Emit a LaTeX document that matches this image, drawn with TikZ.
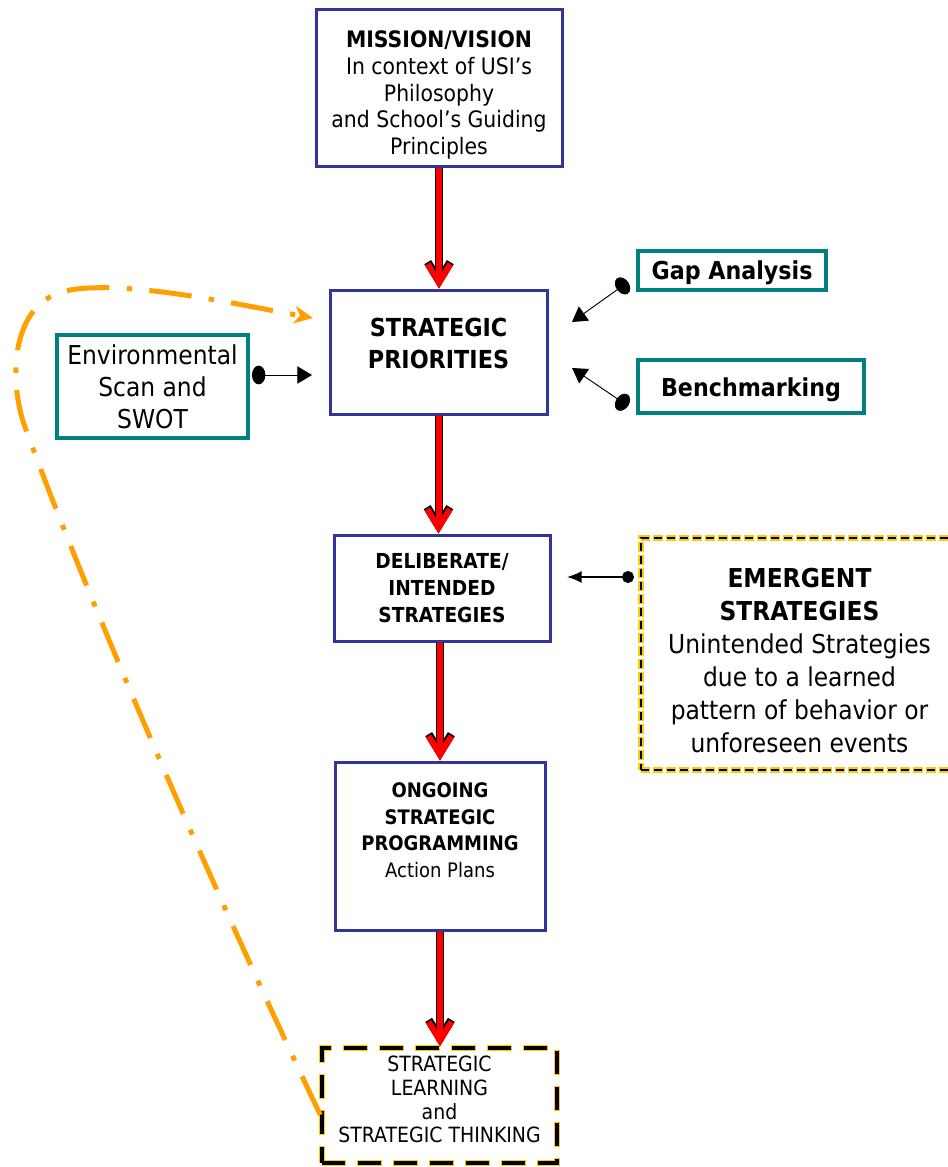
\documentclass[tikz,border=0pt]{standalone}
\usepackage{fontspec}
\setmainfont{DejaVu Sans}[FakeStretch=0.9]
\usetikzlibrary{
    arrows.meta,
    positioning
}
\definecolor{planBlue}{RGB}{51, 51, 153}
\definecolor{inputTeal}{RGB}{0, 128, 128}
\definecolor{cautionYellow}{RGB}{255, 204, 0}
\definecolor{loopOrange}{RGB}{255, 160, 0}
\definecolor{flowRed}{RGB}{255, 0, 0}
\def\pageW{948}
\def\pageH{1167}
\tikzset{
    planBox/.style={
        rectangle,
        draw=planBlue,
        line width=2.25pt,
        fill=white,
        align=center,
        inner sep=2pt
    },
    inputBox/.style={
        rectangle,
        draw=inputTeal,
        line width=3pt,
        fill=white,
        align=center,
        inner sep=1pt,
        font=\fontsize{19.5}{24}\selectfont
    },
    emergentBox/.style={
        rectangle,
        align=center,
        draw=black,
        line width=2pt,
        dash pattern=on 6pt off 3.75pt,
        preaction={draw=cautionYellow, line width=3.8pt, dash pattern=on 7.5pt off 2.25pt, dash phase=0.75pt},
        font=\fontsize{19.5}{24.75}\selectfont
    },
    learnBox/.style={
        rectangle,
        align=center,
        draw=black,
        line width=2.6pt,
        dash pattern=on 17.5pt off 9.5pt,
        preaction={draw=cautionYellow, line width=4.6pt, dash pattern=on 19pt off 8pt, dash phase=0.75pt},
        font=\fontsize{15.75}{17.75}\selectfont
    },
    % Connector Styles
    flowArrow/.style={
        draw=flowRed,
        line width=4.5pt,
        -{Straight Barb[length=14pt, width=17pt]},
        preaction={draw=black, line width=6pt, -{Straight Barb[length=14pt, width=17pt]}}
    },
    feedArrow/.style={
        draw=black,
        line width=0.7pt,
        {Ellipse[length=10pt, width=14pt]}-{Triangle[length=11pt, width=13pt]}
    },
    pinArrow/.style={
        draw=black,
        line width=1.3pt,
        {Circle[length=9pt]}-{Latex[length=11pt, width=9pt]}
    },
    loopArrow/.style={
        draw=loopOrange,
        line width=3.75pt,
        dash pattern=on 32pt off 13pt on 4pt off 13pt,
        -{Stealth[length=14pt, width=13pt, inset=4pt]}
    }
}

\begin{document}
\begin{tikzpicture}[x=0.75pt, y=-0.75pt]
    \useasboundingbox (0,0) rectangle (\pageW, \pageH);
    \clip (0,0) rectangle (\pageW, \pageH);

    % Main Column
    \node[planBox, minimum width=184.5pt, minimum height=117.75pt, font=\fontsize{17}{20}\selectfont] (mission) at (439,87.5) {\rule{0pt}{24pt}\textbf{MISSION/VISION}\\In context of USI’s\\Philosophy\\and School’s Guiding\\Principles};
    \node[planBox, minimum width=162.75pt, minimum height=93pt, font=\bfseries\fontsize{18.6}{24}\selectfont] (priorities) at (438.5,352) {STRATEGIC\\PRIORITIES\rule[-13pt]{0pt}{13pt}};
    \node[planBox, minimum width=162pt, minimum height=79.5pt, font=\bfseries\fontsize{15.5}{20.5}\selectfont] (deliberate) at (442,588) {DELIBERATE/\\INTENDED\\STRATEGIES};
    \node[planBox, minimum width=157.5pt, minimum height=126pt, font=\fontsize{15}{20}\selectfont] (ongoing) at (440,846) {\textbf{ONGOING}\\\textbf{STRATEGIC}\\\textbf{PROGRAMMING}\\Action Plans\rule[-24pt]{0pt}{24pt}};
    \node[learnBox, minimum width=176.25pt, minimum height=86.25pt] (learning) at (439.5,1105.5) {STRATEGIC\\LEARNING\\and\\STRATEGIC THINKING\rule[-9pt]{0pt}{9pt}};

    % Side Inputs
    \node[inputBox, minimum width=143.25pt, minimum height=77.25pt] (env) at (152.5,386.5) {Environmental\\Scan and\\SWOT};
    \node[inputBox, minimum width=141pt, minimum height=29.25pt, font=\bfseries\fontsize{18.5}{24}\selectfont] (gap) at (732,270.5) {\rule{0pt}{17pt}Gap Analysis};
    \node[inputBox, minimum width=169.5pt, minimum height=39.75pt, font=\bfseries\fontsize{18.5}{24}\selectfont] (bench) at (751,386.5) {\rule{0pt}{19pt}Benchmarking};
    \node[emergentBox, minimum width=237.75pt, minimum height=174pt] (emergent) at (799.5,654) {\rule{0pt}{25pt}\textbf{EMERGENT}\\\textbf{STRATEGIES}\\Unintended Strategies\\due to a learned\\pattern of behavior or\\unforeseen events};

    % Free ends of the small connectors
    \coordinate (envDot) at (252,375);
    \coordinate (envTip) at (312,375);
    \coordinate (gapDot) at (628,282);
    \coordinate (gapTip) at (572,322);
    \coordinate (benchDot) at (628,406);
    \coordinate (benchTip) at (572,368);
    \coordinate (emergentDot) at (634,577);
    \coordinate (emergentTip) at (567,577);
    \coordinate (loopTip) at (313,318);

    % Main flow
    \draw[flowArrow] (mission.south) -- (mission.south |- priorities.north);
    \draw[flowArrow] (priorities.south) -- (priorities.south |- deliberate.north);
    \draw[flowArrow] (ongoing.north |- deliberate.south) -- (ongoing.north);
    \draw[flowArrow] (ongoing.south) -- (ongoing.south |- learning.north);

    % Inputs
    \draw[feedArrow] (envDot) -- (envTip);
    \draw[feedArrow] (gapDot) -- (gapTip);
    \draw[feedArrow] (benchDot) -- (benchTip);
    \draw[pinArrow] (emergentDot) -- (emergentTip);

    % Learning loop back to priorities
    \draw[loopArrow] ([yshift=-7pt]learning.west) .. controls (190,840) and (75,565) .. (25,427) .. controls (8,380) and (10,300) .. (70,290) .. controls (130,280) and (240,305) .. (loopTip);
\end{tikzpicture}
\end{document}
